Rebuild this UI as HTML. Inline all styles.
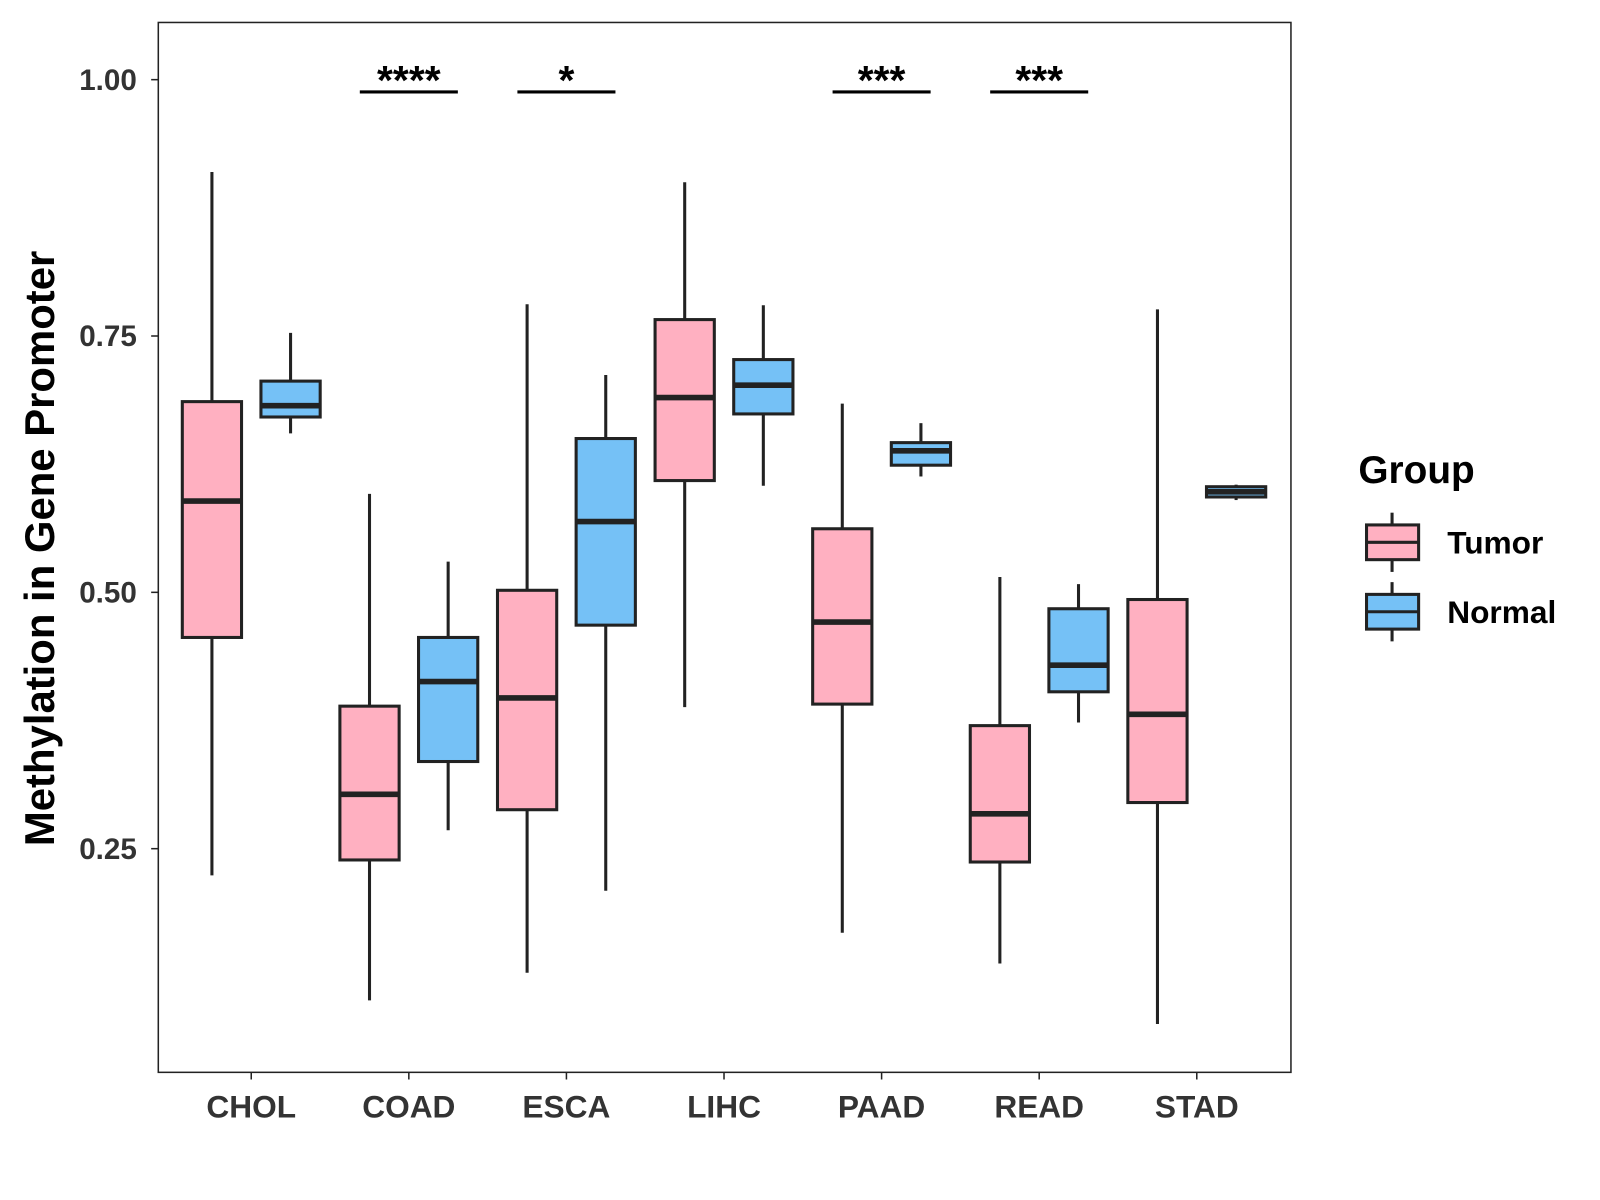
<!DOCTYPE html>
<html><head><meta charset="utf-8"><style>
html,body{margin:0;padding:0;background:#fff;}
svg text{font-family:"Liberation Sans",Arial,sans-serif;font-weight:bold;}
</style></head><body>
<svg id="chart" width="1600" height="1200" viewBox="0 0 1566.6 1175" preserveAspectRatio="none" xmlns="http://www.w3.org/2000/svg" style="display:block">
<rect x="0" y="0" width="1600" height="1200" fill="#fff"/>
<g id="plot"></g>
<rect x="155" y="22" width="1109" height="1028" fill="none" stroke="#222" stroke-width="1.5"/>
<text transform="translate(53,537) rotate(-90)" text-anchor="middle" font-size="41" fill="#000">Methylation in Gene Promoter</text>
<g>
<text x="1330" y="473" font-size="38" fill="#000">Group</text>
<g>
<line x1="1363" y1="502" x2="1363" y2="560" stroke="#222" stroke-width="3"/>
<rect x="1338" y="514" width="51" height="34" fill="#FFB0C1" stroke="#222" stroke-width="3"/>
<line x1="1338" y1="531" x2="1389" y2="531" stroke="#222" stroke-width="3"/>
<text x="1417" y="542" font-size="31" fill="#000">Tumor</text></g>
<g>
<line x1="1363" y1="570" x2="1363" y2="628" stroke="#222" stroke-width="3"/>
<rect x="1338" y="582" width="51" height="34" fill="#75C1F6" stroke="#222" stroke-width="3"/>
<line x1="1338" y1="599" x2="1389" y2="599" stroke="#222" stroke-width="3"/>
<text x="1417" y="610" font-size="31" fill="#000">Normal</text></g>
</g>
</svg>
<script>
const categories = ["CHOL","COAD","ESCA","LIHC","PAAD","READ","STAD"];
// [low, q1, median, q3, high]
const tumorStats = [
 [0.224,0.456,0.589,0.686,0.910],
 [0.102,0.239,0.303,0.389,0.596],
 [0.129,0.288,0.397,0.502,0.781],
 [0.388,0.609,0.690,0.766,0.900],
 [0.168,0.391,0.471,0.562,0.684],
 [0.138,0.237,0.284,0.370,0.515],
 [0.079,0.295,0.381,0.493,0.776]];
const normalStats = [
 [0.655,0.671,0.682,0.706,0.753],
 [0.268,0.335,0.413,0.456,0.530],
 [0.209,0.468,0.569,0.650,0.712],
 [0.604,0.674,0.702,0.727,0.780],
 [0.613,0.624,0.638,0.646,0.665],
 [0.373,0.403,0.429,0.484,0.508],
 [0.590,0.593,0.598,0.603,0.605]];
const yTicks = [0.25,0.50,0.75,1.00];
const yTickLabels = ["0.25","0.50","0.75","1.00"];
const sigLabels = ["","****","*","","***","***",""];
const sigLevel = 0.988;

const NS="http://www.w3.org/2000/svg";
const plot=document.getElementById('plot');
const svg=document.getElementById('chart');
function y(v){return 78+(1-v)*1004;}
function x(i){return 246+i*154.3;}
function mk(tag,attrs,parent){const e=document.createElementNS(NS,tag);for(const k in attrs)e.setAttribute(k,attrs[k]);(parent||plot).appendChild(e);return e;}

yTicks.forEach((t,i)=>{
 const l=mk('line',{x1:148,x2:155,y1:y(t),y2:y(t),stroke:'#222','stroke-width':1.5},svg);
 
 
 const tx=mk('text',{x:134,y:y(t)+10,'text-anchor':'end','font-size':29,fill:'#333'},svg);
 tx.textContent=yTickLabels[i];
 
 
});
categories.forEach((c,i)=>{
 const l=mk('line',{x1:x(i),x2:x(i),y1:1050,y2:1057,stroke:'#222','stroke-width':1.5},svg);
 
 
 const tx=mk('text',{x:x(i),y:1094,'text-anchor':'middle','font-size':31,fill:'#333'},svg);
 tx.textContent=c;
 
 
});
function box(cx,s,fill,name){
 const g=mk('g',{});
 
 
 const w=58;
 mk('line',{x1:cx,x2:cx,y1:y(s[0]),y2:y(s[4]),stroke:'#222','stroke-width':3},g);
 mk('rect',{x:cx-w/2,y:y(s[3]),width:w,height:Math.max(y(s[1])-y(s[3]),0.5),fill:fill,stroke:'#222','stroke-width':3},g);
 mk('line',{x1:cx-w/2,x2:cx+w/2,y1:y(s[2]),y2:y(s[2]),stroke:'#222','stroke-width':5.5},g);
}
categories.forEach((c,i)=>{
 box(x(i)-38.5,tumorStats[i],'#FFB0C1','box-'+c.toLowerCase()+'-tumor');
 box(x(i)+38.5,normalStats[i],'#75C1F6','box-'+c.toLowerCase()+'-normal');
 if(sigLabels[i]){
  const l=mk('line',{x1:x(i)-48,x2:x(i)+48,y1:y(sigLevel),y2:y(sigLevel),stroke:'#000','stroke-width':3});
  
  
  const t=mk('text',{x:x(i),y:y(sigLevel)+2,'text-anchor':'middle','font-size':40,fill:'#000'});
  t.textContent=sigLabels[i];
  
  
 }
});
</script>
</body></html>
